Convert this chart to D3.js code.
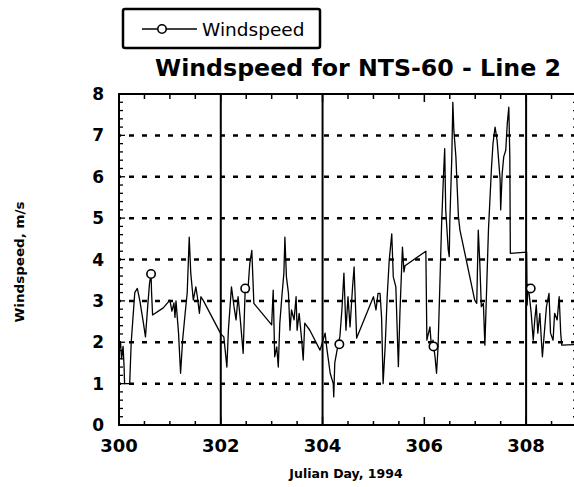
<!DOCTYPE html>
<html>
<head>
<meta charset="UTF-8">
<script src="https://d3js.org/d3.v7.min.js"></script>
<title>Windspeed for NTS-60 - Line 2</title>
<style>
body{margin:0;background:#fff;}
text{font-family:"DejaVu Sans",sans-serif;fill:#000;}
</style>
</head>
<body>
<div id="container"></div>
<script>
// julian day / windspeed (m/s)
var julianDay=[300.00,300.03,300.05,300.08,300.10,300.11,300.21,300.24,300.31,300.36,300.41,300.48,300.52,300.56,300.60,300.63,300.64,300.66,300.87,
301.00,301.04,301.08,301.10,301.12,301.17,301.21,301.25,301.30,301.34,301.38,301.41,301.46,301.51,301.54,301.58,301.61,301.66,301.98,
302.00,302.06,302.12,302.15,302.21,302.26,302.30,302.34,302.38,302.44,302.48,302.53,302.57,302.61,302.64,302.65,
303.00,303.03,303.06,303.10,303.13,303.16,303.20,303.24,303.26,303.29,303.33,303.36,303.39,303.44,303.48,303.50,303.54,303.59,303.62,303.65,303.75,303.95,
304.01,304.05,304.08,304.15,304.21,304.22,304.24,304.31,304.34,304.38,304.42,304.46,304.50,304.54,304.59,304.62,304.67,
305.00,305.05,305.09,305.13,305.16,305.19,305.23,305.27,305.31,305.36,305.39,305.44,305.49,305.52,305.57,305.60,305.62,
306.03,306.05,306.11,306.14,306.17,306.21,306.24,306.27,306.34,306.37,306.40,306.42,306.47,306.49,306.50,306.54,306.56,306.58,306.62,306.67,306.70,306.99,
307.03,307.06,307.09,307.12,307.16,307.19,307.26,307.32,307.35,307.39,307.43,307.49,307.50,307.53,307.56,307.60,307.63,307.66,307.68,307.69,
308.01,308.02,308.04,308.10,308.14,308.17,308.20,308.23,308.27,308.30,308.32,308.40,308.45,308.48,308.53,308.56,308.61,308.65,308.68,308.70,309.06];
var windspeed=[1.8,2.0,1.6,1.9,1.4,1.0,1.0,2.0,3.2,3.3,3.0,2.46,2.13,2.8,3.43,3.65,3.2,2.66,2.83,
3.02,2.75,2.95,2.6,3.0,2.22,1.25,2.05,2.7,3.19,4.54,3.67,3.02,3.34,3.1,2.7,3.1,3.0,2.25,
2.2,2.13,1.4,2.3,3.34,2.86,2.54,3.1,2.6,1.73,3.3,3.2,3.9,4.22,3.26,2.94,
2.42,3.26,1.65,1.89,1.4,2.46,3.1,3.67,4.54,3.58,3.18,2.29,2.78,2.54,3.1,2.29,2.7,2.05,1.57,2.46,2.29,1.81,
2.05,2.22,1.89,1.25,1.0,0.68,1.5,1.98,2.13,2.78,3.67,2.29,3.1,2.37,3.34,3.82,2.1,
3.1,2.78,3.18,3.18,2.6,1.0,1.89,3.1,3.98,4.62,3.58,3.34,1.41,2.7,4.3,3.7,3.85,
4.2,2.05,2.37,1.89,2.05,1.65,1.25,1.89,4.87,5.84,6.68,5.2,4.23,4.07,4.87,6.48,7.8,7.13,6.48,5.04,4.71,3.02,
2.94,4.71,3.91,2.86,2.94,1.93,4.71,6.23,6.81,7.2,6.88,5.92,5.2,6.08,6.48,6.64,7.29,7.68,6.48,4.15,
4.18,2.9,3.4,2.7,2.05,2.54,2.9,2.22,2.7,2.05,1.65,2.86,3.18,2.22,2.05,2.7,2.54,3.1,2.22,1.93,1.95];
var markerDay=[300.63,302.48,304.33,306.18,308.09];
var markerSpeed=[3.65,3.3,1.95,1.9,3.3];
var yTicks=[0,1,2,3,4,5,6,7,8];
var xTicks=[300,302,304,306,308];
var dayLines=[302,304,308];
var gridLevels=[1,2,3,4,5,6,7];

var W=574,H=487;
var svg=d3.select("#container").append("svg").attr("width",W).attr("height",H);

var x=d3.scaleLinear().domain([300,309]).range([119,577]);
var y=d3.scaleLinear().domain([0,8]).range([425,94]);

svg.append("clipPath").attr("id","plot").append("rect")
  .attr("x",x(300)).attr("y",y(8)).attr("width",x(309)-x(300)).attr("height",y(0)-y(8));

// dashed horizontal grid
svg.selectAll(".grid").data(gridLevels).enter().append("line")
  .attr("x1",x(300)).attr("x2",x(309)).attr("y1",d=>y(d)).attr("y2",d=>y(d))
  .attr("stroke","#000").attr("stroke-width",2.5).attr("stroke-dasharray","5,8")
  .attr("stroke-dashoffset",-10);

// solid day lines
svg.selectAll(".day").data(dayLines).enter().append("line")
  .attr("x1",d=>x(d)).attr("x2",d=>x(d)).attr("y1",y(0)).attr("y2",y(8))
  .attr("stroke","#000").attr("stroke-width",2);

// minor ticks, pointing inward
var yMinor=d3.range(0,8.01,0.2);
svg.selectAll(".ytl").data(yMinor).enter().append("line")
  .attr("x1",x(300)).attr("x2",d=>x(300)+(Math.abs(d-Math.round(d))<0.01?6:4))
  .attr("y1",d=>y(d)).attr("y2",d=>y(d)).attr("stroke","#000").attr("stroke-width",1.3);
svg.selectAll(".ytr").data(yMinor).enter().append("line")
  .attr("x1",x(309)).attr("x2",d=>x(309)-(Math.abs(d-Math.round(d))<0.01?6:4))
  .attr("y1",d=>y(d)).attr("y2",d=>y(d)).attr("stroke","#000").attr("stroke-width",1.3);
var xMinor=d3.range(300,309.01,0.5);
svg.selectAll(".xtb").data(xMinor).enter().append("line")
  .attr("x1",d=>x(d)).attr("x2",d=>x(d)).attr("y1",y(0))
  .attr("y2",d=>y(0)-(d%2===0?8:4)).attr("stroke","#000").attr("stroke-width",1.5);
svg.selectAll(".xtt").data(xMinor).enter().append("line")
  .attr("x1",d=>x(d)).attr("x2",d=>x(d)).attr("y1",y(8))
  .attr("y2",d=>y(8)+(d%2===0?8:5)).attr("stroke","#000").attr("stroke-width",1.5);

// frame
svg.append("rect").attr("x",x(300)).attr("y",y(8))
  .attr("width",x(309)-x(300)).attr("height",y(0)-y(8))
  .attr("fill","none").attr("stroke","#000").attr("stroke-width",2);

// data line
var line=d3.line().x((d,i)=>x(julianDay[i])).y(d=>y(d));
svg.append("path").datum(windspeed).attr("clip-path","url(#plot)")
  .attr("d",line).attr("fill","none").attr("stroke","#000")
  .attr("stroke-width",1.3).attr("stroke-linejoin","round");

svg.selectAll(".mk").data(markerDay).enter().append("circle")
  .attr("cx",d=>x(d)).attr("cy",(d,i)=>y(markerSpeed[i])).attr("r",4.2)
  .attr("fill","#fff").attr("stroke","#000").attr("stroke-width",1.6);

// tick labels
svg.selectAll(".yl").data(yTicks).enter().append("text")
  .attr("x",104).attr("y",d=>y(d)).attr("dy","0.36em").attr("text-anchor","end")
  .attr("font-size",17).attr("font-weight","bold").text(d=>d);
svg.selectAll(".xl").data(xTicks).enter().append("text")
  .attr("x",d=>x(d)).attr("y",452).attr("text-anchor","middle")
  .attr("font-size",18).attr("font-weight","bold").text(d=>d);

// axis titles
svg.append("text").attr("x",346).attr("y",478).attr("text-anchor","middle")
  .attr("font-size",12.5).attr("font-weight","bold").text("Julian Day, 1994");
svg.append("text").attr("transform","translate(24,262) rotate(-90)")
  .attr("text-anchor","middle").attr("font-size",12.5).attr("font-weight","bold")
  .attr("textLength",121).attr("lengthAdjust","spacingAndGlyphs").text("Windspeed, m/s");

// title
svg.append("text").attr("x",155).attr("y",76).attr("font-size",23).attr("font-weight","bold")
  .attr("textLength",406).attr("lengthAdjust","spacingAndGlyphs")
  .text("Windspeed for NTS-60 - Line 2");

// legend
var lg=svg.append("g");
lg.append("rect").attr("x",123).attr("y",9).attr("width",197).attr("height",39).attr("rx",2)
  .attr("fill","#fff").attr("stroke","#000").attr("stroke-width",2.5);
lg.append("line").attr("x1",142).attr("x2",197).attr("y1",29).attr("y2",29)
  .attr("stroke","#000").attr("stroke-width",1.3);
lg.append("circle").attr("cx",162).attr("cy",29).attr("r",4.2)
  .attr("fill","#fff").attr("stroke","#000").attr("stroke-width",1.6);
lg.append("text").attr("x",202).attr("y",36).attr("font-size",18.5).text("Windspeed");
</script>
</body>
</html>
